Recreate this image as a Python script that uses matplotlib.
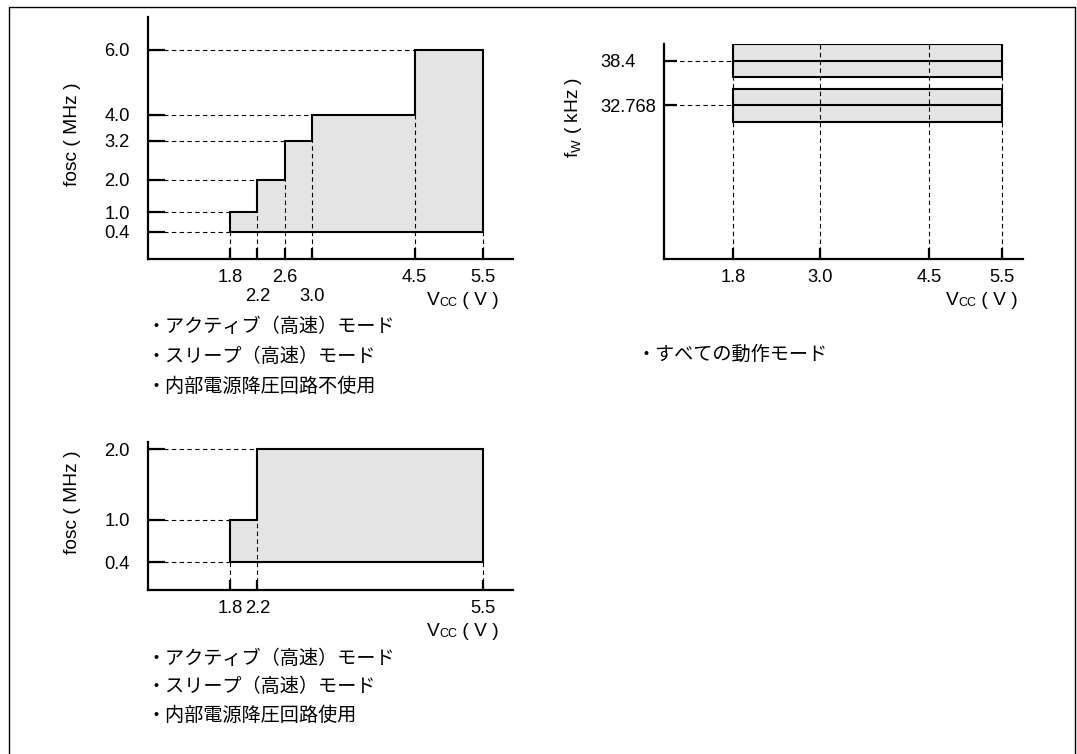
import numpy as np
import matplotlib.pyplot as plt
from matplotlib.lines import Line2D

plt.rcParams['font.family'] = ['Liberation Sans', 'Noto Sans CJK JP']

# operating range, high-speed mode, internal regulator not used
vcc_hs = [1.8, 2.2, 2.6, 3.0, 4.5, 5.5]
fosc_hs = [1.0, 2.0, 3.2, 4.0, 6.0]
vcc_hs_labels = ['1.8', '\n2.2', '2.6', '\n3.0', '4.5', '5.5']
fosc_hs_ticks = [0.4, 1.0, 2.0, 3.2, 4.0, 6.0]
fosc_min = 0.4

# sub clock, all modes
vcc_sub = [1.8, 3.0, 4.5, 5.5]
fw = [32.768, 38.4]
fw_labels = ['32.768', '38.4']

# high-speed mode, internal regulator used
vcc_reg = [1.8, 2.2, 5.5]
fosc_reg = [1.0, 2.0]
vcc_reg_labels = ['1.8', '2.2', '5.5']
fosc_reg_ticks = [0.4, 1.0, 2.0]

notes_hs = ['・アクティブ（高速）モード', '・スリープ（高速）モード', '・内部電源降圧回路不使用']
notes_sub = ['・すべての動作モード']
notes_reg = ['・アクティブ（高速）モード', '・スリープ（高速）モード', '・内部電源降圧回路使用']

W, H = 1077, 754
GRAY = '#e4e4e4'
DASH = dict(color='black', lw=0.8, linestyles=(0, (4, 3)), zorder=2)
TICK_FS = 13.2
FS = 13.8
SMALL = 9
band = 2.06  # half height of the sub clock boxes

fig = plt.figure(figsize=(W / 100, H / 100), dpi=100)


def px_axes(left, top, right, bottom):
    return fig.add_axes([left / W, 1 - bottom / H, (right - left) / W, (bottom - top) / H])


def style(ax, ylen, xlen, ypad):
    for s in ('top', 'right'):
        ax.spines[s].set_visible(False)
    for s in ('left', 'bottom'):
        ax.spines[s].set_linewidth(1.6)
    ax.tick_params(direction='in', width=1.6, labelsize=TICK_FS)
    ax.tick_params(axis='y', length=ylen, pad=ypad)
    ax.tick_params(axis='x', length=xlen, pad=7)
    ax.set_axisbelow(False)


def vcc_label(ax, dx):
    t = ax.annotate(' ( V )', xy=(1, 0), xycoords='axes fraction', xytext=(-dx, -36),
                    textcoords='offset points', ha='right', va='bottom', fontsize=FS)
    t = ax.annotate('CC', xy=(0, 0), xycoords=t, ha='right', va='bottom', fontsize=SMALL)
    ax.annotate('V', xy=(0, 0), xycoords=t, ha='right', va='bottom', fontsize=FS)


def step_region(ax, volts, levels, base):
    top = np.r_[levels, levels[-1]]
    ax.fill_between(volts, base, top, step='post', facecolor=GRAY, edgecolor='none', zorder=1)
    ax.fill_between(volts, base, top, step='post', facecolor='none', edgecolor='black',
                    lw=1.5, zorder=3, joinstyle='miter')
    x0, y0 = ax.get_xlim()[0], ax.get_ylim()[0]
    ax.hlines(base, x0, volts[0], **DASH)
    ax.hlines(levels, x0, volts[:-1], **DASH)
    ax.vlines(volts, y0, np.r_[base, levels[:-1], base], **DASH)


def notes(lines, x, y0, step):
    for i, s in enumerate(lines):
        fig.text(x / W, 1 - (y0 + i * step) / H, s, ha='left', va='center', fontsize=13.8,
                 family='Noto Sans CJK JP')


# ---- top left ----
ax1 = px_axes(148, 17, 513, 259)
ax1.set_xlim(0.601, 5.939)
ax1.set_ylim(-0.431, 7.015)
step_region(ax1, vcc_hs, fosc_hs, fosc_min)
ax1.set_xticks(vcc_hs, vcc_hs_labels)
ax1.set_yticks(fosc_hs_ticks, [f'{v:.1f}' for v in fosc_hs_ticks])
style(ax1, 12.2, 8, 13)
ax1.set_ylabel('fosc ( MHz )', fontsize=FS, va='center')
ax1.yaxis.set_label_coords(-0.2055, 0.5165)
vcc_label(ax1, 10)
notes(notes_hs, 147, 327, 29.5)

# ---- top right ----
ax2 = px_axes(664, 44, 1023, 259)
ax2.set_xlim(0.851, 5.789)
ax2.set_ylim(13.46, 40.5)
for f in fw:
    ax2.fill_between([vcc_sub[0], vcc_sub[-1]], f - band, f + band, facecolor=GRAY,
                     edgecolor='none', zorder=1)
    ax2.fill_between([vcc_sub[0], vcc_sub[-1]], f - band, f + band, facecolor='none',
                     edgecolor='black', lw=1.5, zorder=3, joinstyle='miter')
ax2.hlines(fw, vcc_sub[0], vcc_sub[-1], color='black', lw=1.5, zorder=3)
ax2.hlines(fw, ax2.get_xlim()[0], vcc_sub[0], **DASH)
ax2.vlines(vcc_sub, ax2.get_ylim()[0], max(fw) + band, **DASH)
ax2.set_xticks(vcc_sub, [f'{v:.1f}' for v in vcc_sub])
ax2.set_yticks(fw, fw_labels)
style(ax2, 9, 8, 46)
for lbl in ax2.get_yticklabels():
    lbl.set_horizontalalignment('left')
vcc_label(ax2, 3.5)
fig.text(573 / W, 1 - 117 / H, r'f$_\mathregular{W}$ ( kHz )', rotation=90,
         ha='center', va='center', fontsize=FS)
notes(notes_sub, 636, 354, 29.5)

# ---- bottom left ----
ax3 = px_axes(148, 442, 513, 590)
ax3.set_xlim(0.601, 5.939)
ax3.set_ylim(0.008, 2.103)
step_region(ax3, vcc_reg, fosc_reg, fosc_min)
ax3.set_xticks(vcc_reg, vcc_reg_labels)
ax3.set_yticks(fosc_reg_ticks, [f'{v:.1f}' for v in fosc_reg_ticks])
style(ax3, 12.2, 7.5, 13)
ax3.set_ylabel('fosc ( MHz )', fontsize=FS, va='center')
ax3.yaxis.set_label_coords(-0.2055, 0.591)
vcc_label(ax3, 10)
notes(notes_reg, 147, 658, 28.7)

# outer frame
fig.add_artist(Line2D([9 / W, 9 / W, 1075 / W, 1075 / W], [0, 1 - 7 / H, 1 - 7 / H, 0],
                      color='black', lw=1))

fig.savefig('out.png', dpi=100)
